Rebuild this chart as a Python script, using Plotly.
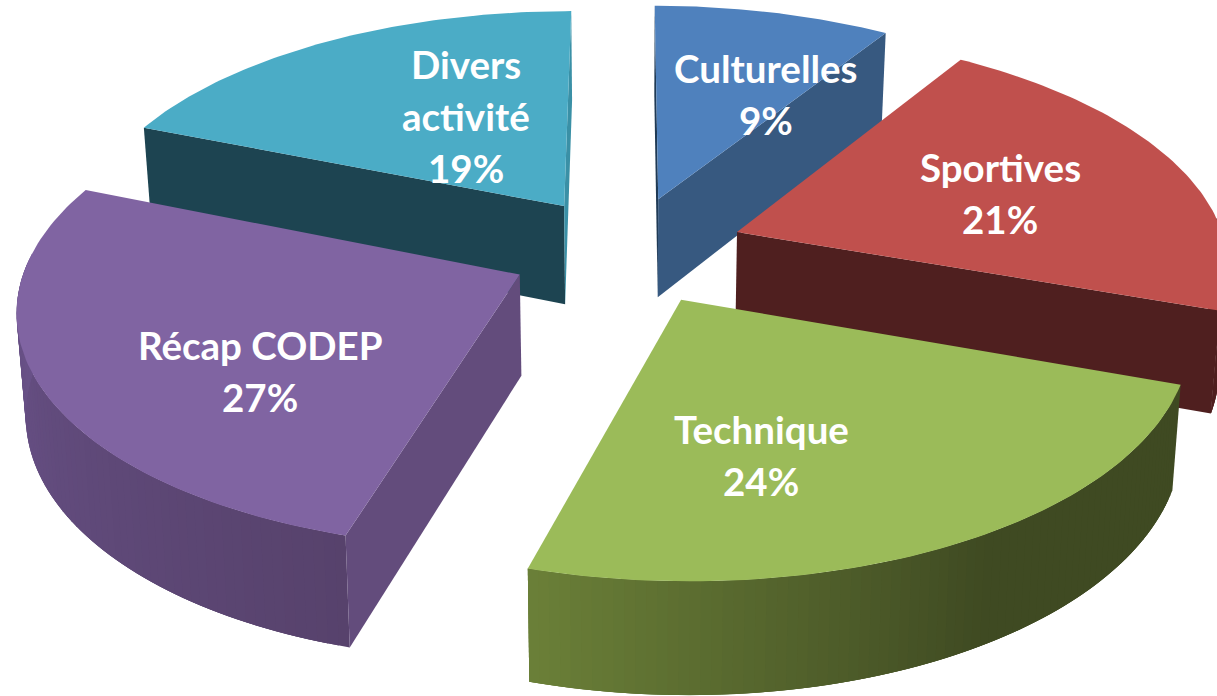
import math
import plotly.graph_objects as go

# ---- data ----
categories = ["Culturelles", "Sportives", "Technique", "Récap CODEP", "Divers\nactivité"]
shares = [9.0, 21.4, 24.1, 26.6, 18.9]

# ---- styles ----
top_colors = ["#4F81BD", "#C0504D", "#9BBB59", "#8064A2", "#4BACC6"]
start_wall = ["#1F3A55", None, None, "#634C7C", "#1D4451"]
end_wall = ["#375980", "#4F1F1F", None, None, "#3A90A6"]
outer_low = [None, "#4F1F1F", "#3F4A22", "#57426C", None]
outer_high = [None, "#4F1F1F", "#6B8038", "#6E5690", None]
grad_from = [0.0, 0.0, 0.45, 0.0, 0.0]
pulls = [0.235, 0.24, 0.235, 0.24, 0.235]
draw_order = [4, 0, 1, 3, 2]
label_xy = [(766, 68), (1000, 167), (761, 429), (260, 345), (466, 64)]
LINE_STEP = 52
FONT_SIZE = 38.5

# ---- camera of the tilted pie ----
CX, CY = 627.0, 250.0
SX, SY = 490.0, 231.0
K = 0.13
DEPTH = 100.0
DEPTH_K = 0.10
BOTTOM_SCALE = 0.985


def project(u, v, low=False):
    w = 1 + K * v
    x = CX + SX * u / w
    y = CY - SY * v / w
    if low:
        x = CX + (x - CX) * BOTTOM_SCALE
        y += DEPTH / (1 + DEPTH_K * v)
    return x, y


def mix(c1, c2, t):
    a = [int(c1[i:i + 2], 16) for i in (1, 3, 5)]
    b = [int(c2[i:i + 2], 16) for i in (1, 3, 5)]
    return "rgb(%d,%d,%d)" % tuple(round(p + (q - p) * t) for p, q in zip(a, b))


def poly(points, color):
    xs = [p[0] for p in points] + [points[0][0]]
    ys = [p[1] for p in points] + [points[0][1]]
    return go.Scatter(x=xs, y=ys, mode="lines", fill="toself", fillcolor=color,
                      line=dict(width=0), hoverinfo="skip", showlegend=False)


total = sum(shares)
spans = []
acc = 0.0
for s in shares:
    a0 = acc / total * 2 * math.pi
    acc += s
    spans.append((a0, acc / total * 2 * math.pi))

fig = go.Figure()
for i in draw_order:
    a0, a1 = spans[i]
    mid = (a0 + a1) / 2
    au, av = pulls[i] * math.sin(mid), pulls[i] * math.cos(mid)
    n = 80
    angles = [a0 + (a1 - a0) * j / n for j in range(n + 1)]
    rim = [(au + math.sin(a), av + math.cos(a)) for a in angles]
    apex_t = project(au, av)
    apex_b = project(au, av, True)
    # outer wall: overlapping strips, so no seam shows between them
    if outer_low[i]:
        for j in range(n):
            if math.cos(angles[j + 1]) > 0.05:
                continue
            t = (j + 0.5) / n
            g = grad_from[i]
            t = max(0.0, (t - g) / (1 - g))
            k = min(j + 3, n)
            fig.add_trace(poly([project(*rim[j]), project(*rim[k]),
                                project(*rim[k], True), project(*rim[j], True)],
                               mix(outer_low[i], outer_high[i], t)))
    # radial walls
    if start_wall[i]:
        fig.add_trace(poly([apex_t, project(*rim[0]), project(*rim[0], True), apex_b], start_wall[i]))
    if end_wall[i]:
        fig.add_trace(poly([apex_t, project(*rim[-1]), project(*rim[-1], True), apex_b], end_wall[i]))
    # top face
    fig.add_trace(poly([apex_t] + [project(*p) for p in rim], top_colors[i]))

annotations = []
for cat, share, (lx, ly) in zip(categories, shares, label_xy):
    lines = cat.split("\n") + [f"{round(share)}%"]
    for k, txt in enumerate(lines):
        annotations.append(dict(x=lx, y=ly + k * LINE_STEP, text=txt, showarrow=False,
                                xanchor="center", yanchor="middle",
                                font=dict(family="Lato", size=FONT_SIZE, color="white", weight="bold")))

fig.update_layout(
    width=1217, height=696, margin=dict(l=0, r=0, t=0, b=0),
    paper_bgcolor="white", plot_bgcolor="white", showlegend=False,
    annotations=annotations,
    xaxis=dict(range=[0, 1217], visible=False, fixedrange=True),
    yaxis=dict(range=[696, 0], visible=False, fixedrange=True),
)
fig.write_html("out.html", config={"displayModeBar": False},
               post_script="document.body.style.margin='0';document.body.style.overflow='hidden';")
